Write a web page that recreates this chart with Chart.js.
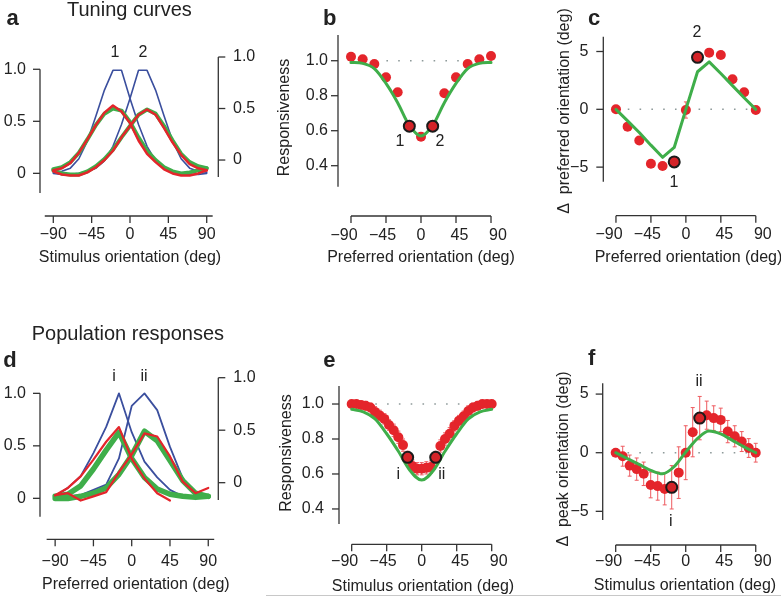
<!DOCTYPE html>
<html>
<head>
<meta charset="utf-8">
<script src="https://cdn.jsdelivr.net/npm/chart.js@4.4.1/dist/chart.umd.min.js"></script>
<style>
  body { margin: 0; background: #fff; }
  #fig { position: relative; width: 781px; height: 597px; overflow: hidden; }
  #fig canvas { position: absolute; left: 0; top: 0; }
  #rule { position: absolute; left: 266px; top: 595px; width: 515px; height: 1px; background: #c8c8c8; }
</style>
</head>
<body>
<div id="fig">
  <canvas id="pa" width="781" height="597"></canvas>
  <canvas id="pb" width="781" height="597"></canvas>
  <canvas id="pc" width="781" height="597"></canvas>
  <canvas id="pd" width="781" height="597"></canvas>
  <canvas id="pe" width="781" height="597"></canvas>
  <canvas id="pf" width="781" height="597"></canvas>
  <div id="rule"></div>
</div>
<script>
// ---- data ----
const angleTicks = [-90, -45, 0, 45, 90];
const refSpan = [-90, 90];

// a: tuning curves of units 1 and 2, every 10 deg
const aAngles = [-90,-80,-70,-60,-50,-40,-30,-20,-10,0,10,20,30,40,50,60,70,80,90];
const aBlue1  = [0.01,0.02,0.05,0.14,0.31,0.55,0.80,0.99,0.99,0.72,0.47,0.26,0.12,0.05,0.02,0.0,-0.01,-0.01,0.0];
const aBlue2  = [0.0,-0.01,-0.01,0.0,0.02,0.05,0.12,0.26,0.47,0.72,0.99,0.99,0.80,0.55,0.31,0.14,0.05,0.02,0.01];
const aRed1   = [-0.10,-0.08,-0.03,0.07,0.20,0.34,0.46,0.53,0.47,0.36,0.19,0.06,-0.02,-0.09,-0.13,-0.15,-0.15,-0.13,-0.10];
const aGreen1 = [-0.09,-0.07,-0.02,0.07,0.20,0.34,0.45,0.50,0.48,0.37,0.22,0.09,0.0,-0.07,-0.11,-0.13,-0.12,-0.10,-0.08];
const aRed2   = [-0.11,-0.14,-0.15,-0.15,-0.12,-0.07,0.0,0.09,0.22,0.33,0.44,0.49,0.44,0.31,0.17,0.05,-0.04,-0.08,-0.10];
const aGreen2 = [-0.10,-0.13,-0.14,-0.14,-0.11,-0.06,0.01,0.10,0.22,0.33,0.44,0.49,0.45,0.33,0.19,0.06,-0.02,-0.06,-0.08];
const unitTicks = [0, 0.5, 1.0];
const unitLabels = ['0', '0.5', '1.0'];

// b, c: responsiveness and preferred-orientation shift, every 15 deg
const prefAngles = [-90,-75,-60,-45,-30,-15,0,15,30,45,60,75,90];
const bResp = [1.023,1.008,0.981,0.905,0.82,0.626,0.566,0.626,0.814,0.905,0.981,1.008,1.027];
const bFit  = [0.99,0.985,0.955,0.87,0.76,0.63,0.57,0.63,0.76,0.87,0.955,0.985,0.99];
const bRingX = [-15, 15];
const bRingY = [0.626, 0.626];
const respTicks = [0.4, 0.6, 0.8, 1.0];
const respLabels = ['0.4', '0.6', '0.8', '1.0'];

const cShift = [0,-1.5,-2.7,-4.7,-4.9,-4.55,-0.06,4.5,4.9,4.7,2.6,1.47,-0.06];
const cErr   = [0.15,0.25,0.25,0.3,0.3,0.3,0.7,0.3,0.3,0.3,0.3,0.3,0.2];
const cFit   = [0,-1.0,-2.0,-3.1,-4.15,-3.3,0,3.25,4.1,3.1,2.05,1.0,0];
const cRingX = [-15, 15];
const cRingY = [-4.55, 4.5];
const shiftTicks = [-5, 0, 5];
const shiftLabels = ['\u22125', '0', '5'];

// d: population responses, every 15 deg
const dAngles = [-90,-75,-60,-45,-30,-15,0,15,30,45,60,75,90];
const dBlue1  = [0.02,0.10,0.21,0.43,0.68,1.0,0.63,0.35,0.20,0.08,0.02,0.0,0.02];
const dBlue2  = [0.02,0.02,0.03,0.08,0.13,0.38,0.88,1.0,0.84,0.49,0.19,0.06,0.02];
const dRed1   = [-0.12,-0.05,0.06,0.22,0.39,0.53,0.23,0.04,-0.10,-0.17,null,null,null];
const dGreen1 = [-0.13,-0.11,-0.03,0.13,0.31,0.48,0.23,0.05,-0.06,-0.11,-0.13,-0.14,-0.13];
const dRed2   = [-0.12,-0.10,-0.17,-0.13,-0.09,0.10,0.27,0.47,0.44,0.25,0.01,-0.10,-0.05];
const dGreen2 = [-0.15,-0.15,-0.13,-0.10,-0.05,0.08,0.26,0.49,0.40,0.21,0.02,-0.10,-0.13];

// e: population responsiveness, every 6 deg
const eAngles = [-90,-84,-78,-72,-66,-60,-54,-48,-42,-36,-30,-24,-18,-12,-6,0,6,12,18,24,30,36,42,48,54,60,66,72,78,84,90];
const eResp = [1.0,1.0,0.995,0.99,0.98,0.955,0.935,0.915,0.88,0.85,0.81,0.765,0.695,0.645,0.63,0.63,0.635,0.64,0.695,0.76,0.80,0.83,0.875,0.905,0.93,0.96,0.98,0.99,1.0,1.0,1.0];
const eErr  = [0.02,0.02,0.02,0.025,0.025,0.03,0.03,0.03,0.03,0.035,0.035,0.035,0.035,0.035,0.035,0.035,0.035,0.035,0.035,0.035,0.035,0.035,0.03,0.03,0.03,0.03,0.025,0.025,0.02,0.02,0.02];
const fitAngles = [-90,-75,-60,-45,-30,-15,0,15,30,45,60,75,90];
const eFit = [0.97,0.955,0.915,0.83,0.73,0.62,0.565,0.62,0.73,0.83,0.915,0.955,0.97];
const eRingX = [-18, 18];
const eRingY = [0.695, 0.695];

// f: peak orientation shift, every 9 deg
const fAngles = [-90,-81,-72,-63,-54,-45,-36,-27,-18,-9,0,9,18,27,36,45,54,63,72,81,90];
const fShift = [0,-0.3,-1.1,-1.4,-1.8,-2.75,-2.85,-3.1,-2.95,-1.7,0,1.75,2.95,3.2,2.95,2.8,1.8,1.4,0.95,0.4,0];
const fErr   = [0.1,0.85,0.9,0.95,1.0,1.1,1.2,1.35,1.85,2.2,2.3,2.1,1.85,1.2,1.05,1.0,0.95,0.9,0.85,0.8,0.8];
const fFit   = [0,-0.5,-1.0,-1.5,-1.8,-1.2,0.05,1.2,1.85,1.6,1.05,0.5,0];
const fRingX = [-18, 18];
const fRingY = [-2.95, 2.95];

// ---- style ----
const FONT = '"Liberation Sans", Arial, Helvetica, sans-serif';
const RED = '#e4252b', GREEN = '#3fae4a', BLUE = '#3b4f9e';
const AXIS = '#333', INK = '#222', REF = '#8e9a9a', ERR = '#ee5b60', RING = '#d42328';

const pts = (xs, ys) => xs.map((x, i) => ({x: x, y: ys[i]}));
const minus = v => String(v).replace('-', '\u2212');

const curve = (xs, ys, color, width, extra) => Object.assign({
  data: pts(xs, ys), showLine: true, borderColor: color, borderWidth: width,
  pointRadius: 0, tension: 0, fill: false, borderJoinStyle: 'round', borderCapStyle: 'round'
}, extra || {});
const smooth = (xs, ys, width) => curve(xs, ys, GREEN, width, {cubicInterpolationMode: 'monotone'});
const dots = (xs, ys, errs) => ({
  data: pts(xs, ys), pointRadius: 5, backgroundColor: RED, pointBackgroundColor: RED,
  pointBorderWidth: 0, errors: errs
});
const rings = (xs, ys) => ({
  data: pts(xs, ys), pointRadius: 5.5, backgroundColor: RING, pointBackgroundColor: RING,
  pointBorderColor: '#1b1b1b', pointBorderWidth: 2
});
const dotted = (xs, ys) => curve(xs, ys, REF, 1.6, {borderDash: [1.6, 10.2], borderCapStyle: 'butt'});

// ---- plugins ----
// R-style detached axes: x axis sits below the plot, y axes span a set range
const rAxes = {
  id: 'rAxes',
  beforeDatasetsDraw(chart, args, o) {
    const {ctx, chartArea: ca, scales} = chart;
    const seg = (x1, y1, x2, y2) => { ctx.beginPath(); ctx.moveTo(x1, y1); ctx.lineTo(x2, y2); ctx.stroke(); };
    ctx.save();
    ctx.strokeStyle = AXIS;
    ctx.lineWidth = 1.3;
    const xs = scales.x, yx = ca.bottom + o.xGap;
    seg(xs.getPixelForValue(o.xLine[0]), yx, xs.getPixelForValue(o.xLine[1]), yx);
    xs.ticks.forEach(t => { const p = xs.getPixelForValue(t.value); seg(p, yx, p, yx + o.tick); });
    [['y', ca.left, -1], ['y2', ca.right, 1]].forEach(([id, x, dir]) => {
      const s = scales[id], rng = o[id];
      if (!s || !rng) return;
      seg(x, s.getPixelForValue(rng[0]), x, s.getPixelForValue(rng[1]));
      s.ticks.forEach(t => { const p = s.getPixelForValue(t.value); seg(x, p, x + dir * o.tick, p); });
    });
    ctx.restore();
  }
};

const errorBars = {
  id: 'errorBars',
  beforeDatasetsDraw(chart) {
    const ctx = chart.ctx;
    chart.data.datasets.forEach((ds, i) => {
      if (!ds.errors) return;
      const meta = chart.getDatasetMeta(i), xs = meta.xScale, ys = meta.yScale;
      ctx.save();
      ctx.strokeStyle = ERR;
      ctx.lineWidth = 1;
      ds.data.forEach((p, j) => {
        const e = ds.errors[j];
        if (!e) return;
        const x = xs.getPixelForValue(p.x);
        const y1 = ys.getPixelForValue(p.y - e), y2 = ys.getPixelForValue(p.y + e);
        ctx.beginPath();
        ctx.moveTo(x, y1); ctx.lineTo(x, y2);
        ctx.moveTo(x - 2, y1); ctx.lineTo(x + 2, y1);
        ctx.moveTo(x - 2, y2); ctx.lineTo(x + 2, y2);
        ctx.stroke();
      });
      ctx.restore();
    });
  }
};

const notes = {
  id: 'notes',
  afterDraw(chart, args, o) {
    const ctx = chart.ctx;
    (o.items || []).forEach(n => {
      ctx.save();
      ctx.fillStyle = INK;
      ctx.font = (n.font || '16px') + ' ' + FONT;
      ctx.textAlign = n.align || 'center';
      ctx.textBaseline = n.base || 'middle';
      ctx.translate(n.x, n.y);
      if (n.rot) ctx.rotate(-Math.PI / 2);
      ctx.fillText(n.text, 0, 0);
      ctx.restore();
    });
  }
};

// ---- panel builder ----
// every canvas covers the whole figure, so areas below are page coordinates
const W = 781, H = 597, YW = 40, XH = 70;

// keep the label overhang from shrinking the plot area
const noOverhang = sc => { sc.paddingLeft = sc.paddingRight = sc.paddingTop = sc.paddingBottom = 0; };

function yAxis(s, side) {
  return {
    type: 'linear', position: side, min: s.min, max: s.max,
    afterBuildTicks: sc => { sc.ticks = s.ticks.map(v => ({value: v})); },
    afterFit: sc => { sc.width = YW; noOverhang(sc); },
    grid: {display: false, drawTicks: false},
    border: {display: false},
    ticks: {autoSkip: false, padding: s.pad, color: INK, font: {family: FONT, size: 16},
            callback: (v, i) => s.labels[i]}
  };
}

function xAxis(min, max, pad, showLabels, height) {
  return {
    type: 'linear', position: 'bottom', min: min, max: max,
    afterBuildTicks: sc => { sc.ticks = angleTicks.map(v => ({value: v})); },
    afterFit: sc => { sc.height = height; noOverhang(sc); },
    grid: {display: false, drawTicks: false},
    border: {display: false},
    ticks: {display: showLabels, autoSkip: false, maxRotation: 0, padding: pad, color: INK,
            font: {family: FONT, size: 16}, callback: v => minus(v)}
  };
}

function panel(id, p) {
  const scales = {};
  if (p.x.spread) {
    // tick labels sit a little wider apart than the tick marks
    const a = p.area, lo = angleTicks[0], hi = angleTicks[angleTicks.length - 1];
    const px = v => a.l + (v - p.x.min) / (p.x.max - p.x.min) * (a.r - a.l);
    const t1 = px(lo) - p.x.spread, t2 = px(hi) + p.x.spread, k = (t2 - t1) / (hi - lo);
    scales.x = xAxis(p.x.min, p.x.max, 0, false, 0);
    scales.xl = xAxis(lo - (t1 - a.l) / k, hi + (a.r - t2) / k, p.x.pad, true, XH);
  } else {
    scales.x = xAxis(p.x.min, p.x.max, p.x.pad, true, XH);
  }
  scales.y = yAxis(p.y, 'left');
  if (p.y2) scales.y2 = yAxis(p.y2, 'right');
  return new Chart(document.getElementById(id), {
    type: 'scatter',
    data: {datasets: p.datasets},
    options: {
      responsive: false, animation: false, events: [],
      layout: {padding: {
        left: p.area.l - YW, right: W - p.area.r - (p.y2 ? YW : 0),
        top: p.area.t, bottom: H - p.area.b - XH
      }},
      scales: scales,
      plugins: {legend: {display: false}, tooltip: {enabled: false},
                rAxes: p.axes, notes: {items: p.notes}}
    },
    plugins: [rAxes, errorBars, notes]
  });
}

const onY2 = {yAxisID: 'y2'};

panel('pa', {
  area: {l: 40, r: 218.3, t: 57, b: 193},
  x: {min: -105.6, max: 103.6, pad: 32.4},
  y: {min: -0.189, max: 1.118, pad: 14, ticks: unitTicks, labels: unitLabels},
  y2: {min: -0.32, max: 1.0, pad: 14.7, ticks: unitTicks, labels: unitLabels},
  axes: {xGap: 23, xLine: [-100, 97], y: [-0.189, 1.0], y2: [-0.165, 1.0], tick: 7},
  datasets: [
    curve(aAngles, aRed1, RED, 2.5, onY2),
    curve(aAngles, aRed2, RED, 2.5, onY2),
    curve(aAngles, aGreen1, GREEN, 4, onY2),
    curve(aAngles, aGreen2, GREEN, 4, onY2),
    curve(aAngles, aBlue1, BLUE, 1.6),
    curve(aAngles, aBlue2, BLUE, 1.6)
  ],
  notes: [
    {text: 'a', x: 6.5, y: 25, font: 'bold 22px', align: 'left', base: 'alphabetic'},
    {text: 'Tuning curves', x: 67, y: 16, font: '20px', align: 'left', base: 'alphabetic'},
    {text: '1', x: 115, y: 53}, {text: '2', x: 143, y: 53},
    {text: 'Stimulus orientation (deg)', x: 130, y: 258}
  ]
});

panel('pb', {
  area: {l: 338, r: 504, t: 35, b: 186.7},
  x: {min: -106.7, max: 106.7, pad: 39.7, spread: 7},
  y: {min: 0.28, max: 1.147, pad: 10, ticks: respTicks, labels: respLabels},
  axes: {xGap: 29.3, xLine: [-90, 90], y: [0.28, 1.147], tick: 7},
  datasets: [
    rings(bRingX, bRingY),
    smooth(prefAngles, bFit, 3),
    dots(prefAngles, bResp),
    dotted(refSpan, [1, 1])
  ],
  notes: [
    {text: 'b', x: 323, y: 25, font: 'bold 22px', align: 'left', base: 'alphabetic'},
    {text: 'Responsiveness', x: 285, y: 117.5, rot: true},
    {text: '1', x: 400, y: 141.7}, {text: '2', x: 440, y: 141.7},
    {text: 'Preferred orientation (deg)', x: 421, y: 258}
  ]
});

panel('pc', {
  area: {l: 603.3, r: 773.7, t: 36.7, b: 181.7},
  x: {min: -106.3, max: 112.8, pad: 43.7, spread: 7},
  y: {min: -6.26, max: 6.28, pad: 15, ticks: shiftTicks, labels: shiftLabels},
  axes: {xGap: 34, xLine: [-90, 90], y: [-6.26, 6.28], tick: 7},
  datasets: [
    rings(cRingX, cRingY),
    curve(prefAngles, cFit, GREEN, 3),
    dots(prefAngles, cShift, cErr),
    dotted(refSpan, [0, 0])
  ],
  notes: [
    {text: 'c', x: 588, y: 25, font: 'bold 22px', align: 'left', base: 'alphabetic'},
    {text: '\u0394  preferred orientation (deg)', x: 565, y: 111, rot: true},
    {text: '1', x: 674, y: 183}, {text: '2', x: 697, y: 33},
    {text: 'Preferred orientation (deg)', x: 688.5, y: 258}
  ]
});

panel('pd', {
  area: {l: 40, r: 218.3, t: 377.7, b: 516.7},
  x: {min: -107.8, max: 101.8, pad: 35.4},
  y: {min: -0.175, max: 1.149, pad: 14, ticks: unitTicks, labels: unitLabels},
  y2: {min: -0.324, max: 1.0, pad: 15, ticks: unitTicks, labels: unitLabels},
  axes: {xGap: 22.6, xLine: [-100, 97], y: [-0.175, 1.0], y2: [-0.165, 1.0], tick: 7},
  datasets: [
    curve(dAngles, dRed1, RED, 2.2, onY2),
    curve(dAngles, dRed2, RED, 2.2, onY2),
    curve(dAngles, dGreen1, GREEN, 5.5, onY2),
    curve(dAngles, dGreen2, GREEN, 5.5, onY2),
    curve(dAngles, dBlue1, BLUE, 1.8),
    curve(dAngles, dBlue2, BLUE, 1.8)
  ],
  notes: [
    {text: 'Population responses', x: 31.7, y: 340, font: '20px', align: 'left', base: 'alphabetic'},
    {text: 'd', x: 3.3, y: 366.7, font: 'bold 22px', align: 'left', base: 'alphabetic'},
    {text: 'i', x: 114, y: 376.7}, {text: 'ii', x: 144, y: 376.7},
    {text: 'Preferred orientation (deg)', x: 135.8, y: 585}
  ]
});

panel('pe', {
  area: {l: 339, r: 505, t: 386, b: 524},
  x: {min: -106.3, max: 107.1, pad: 28.1, spread: 7},
  y: {min: 0.314, max: 1.103, pad: 15, ticks: respTicks, labels: respLabels},
  axes: {xGap: 20.3, xLine: [-90, 90], y: [0.314, 1.103], tick: 7},
  datasets: [
    rings(eRingX, eRingY),
    smooth(fitAngles, eFit, 3),
    dots(eAngles, eResp, eErr),
    dotted(refSpan, [1, 1])
  ],
  notes: [
    {text: 'e', x: 323.3, y: 366.7, font: 'bold 22px', align: 'left', base: 'alphabetic'},
    {text: 'Responsiveness', x: 286.7, y: 453, rot: true},
    {text: 'i', x: 398.3, y: 475}, {text: 'ii', x: 441.7, y: 475},
    {text: 'Stimulus orientation (deg)', x: 423, y: 586.7}
  ]
});

panel('pf', {
  area: {l: 602.7, r: 773, t: 383.3, b: 520},
  x: {min: -106.7, max: 112.2, pad: 32.1, spread: 7},
  y: {min: -5.74, max: 5.92, pad: 14, ticks: shiftTicks, labels: shiftLabels},
  axes: {xGap: 25, xLine: [-90, 90], y: [-5.74, 5.92], tick: 7},
  datasets: [
    rings(fRingX, fRingY),
    smooth(fitAngles, fFit, 3),
    dots(fAngles, fShift, fErr),
    dotted(refSpan, [0, 0])
  ],
  notes: [
    {text: 'f', x: 588, y: 365, font: 'bold 22px', align: 'left', base: 'alphabetic'},
    {text: '\u0394  peak orientation (deg)', x: 563.3, y: 459, rot: true},
    {text: 'ii', x: 699, y: 381.7}, {text: 'i', x: 670.7, y: 521.7},
    {text: 'Stimulus orientation (deg)', x: 685, y: 586}
  ]
});
</script>
</body>
</html>
